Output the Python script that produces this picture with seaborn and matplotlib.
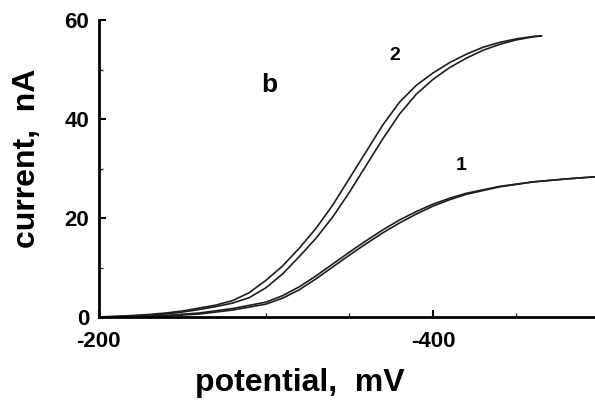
import numpy as np
import pandas as pd
import matplotlib
matplotlib.use("Agg")
import matplotlib.pyplot as plt
import seaborn as sns

# curve 2 (upper pair), two scan directions
pot2 = [-200, -210, -220, -230, -240, -250, -260, -270, -280, -290, -300, -310, -320, -330,
        -340, -350, -360, -370, -380, -390, -400, -410, -420, -430, -440, -450, -460, -465]
cur2_a = [0.0, 0.1, 0.3, 0.5, 0.8, 1.2, 1.8, 2.4, 3.3, 4.9, 7.4, 10.3, 13.9, 17.9,
          22.6, 28.0, 33.4, 38.8, 43.4, 46.8, 49.3, 51.4, 53.1, 54.5, 55.5, 56.2, 56.7, 56.8]
cur2_b = [0.0, 0.1, 0.2, 0.4, 0.6, 1.0, 1.5, 2.1, 2.8, 3.9, 5.9, 8.7, 12.2, 15.9,
          20.2, 25.2, 30.6, 36.0, 41.0, 45.0, 48.0, 50.4, 52.3, 53.9, 55.1, 56.0, 56.6, 56.8]

# curve 1 (lower pair)
pot1 = [-200, -220, -240, -260, -280, -300, -310, -320, -330, -340, -350, -360, -370,
        -380, -390, -400, -410, -420, -440, -460, -480, -500]
cur1_a = [0.0, 0.1, 0.3, 0.8, 1.7, 3.0, 4.3, 6.1, 8.3, 10.7, 13.1, 15.4, 17.6,
          19.6, 21.3, 22.8, 24.0, 25.0, 26.4, 27.3, 27.9, 28.4]
cur1_b = [0.0, 0.0, 0.2, 0.6, 1.4, 2.6, 3.8, 5.5, 7.7, 10.1, 12.5, 14.8, 17.0,
          19.0, 20.8, 22.4, 23.7, 24.8, 26.3, 27.3, 27.9, 28.4]

sns.set_style("ticks")
plt.rcParams['font.family'] = ['Liberation Sans', 'DejaVu Sans']
plt.rcParams['font.weight'] = 'bold'
plt.rcParams['axes.unicode_minus'] = False
plt.rcParams['text.color'] = 'black'
plt.rcParams['axes.labelcolor'] = 'black'

fig = plt.figure(figsize=(5.95, 4.01), dpi=100)
ax = fig.add_axes([0.166, 0.2095, 0.834, 0.7405])

line_kw = dict(color='#1e1e1e', linewidth=1.2, sort=False, estimator=None, ax=ax)
sns.lineplot(x=pot2, y=cur2_a, **line_kw)
sns.lineplot(x=pot2, y=cur2_b, **line_kw)
sns.lineplot(x=pot1, y=cur1_a, **line_kw)
sns.lineplot(x=pot1, y=cur1_b, **line_kw)

ax.set_xlim(-200, -497)
ax.set_ylim(0, 60)
ax.set_xticks([-200, -400])
ax.set_xticks([-250, -300, -350, -450], minor=True)
ax.set_yticks([0, 20, 40, 60])
ax.set_yticks([10, 30, 50], minor=True)
ax.tick_params(axis='both', which='major', direction='in', length=5, width=1.5,
               labelsize=16, colors='black')
ax.tick_params(axis='x', which='major', pad=10)
ax.tick_params(axis='y', which='major', pad=7)
ax.tick_params(axis='both', which='minor', direction='in', length=3, width=1)
for lab in ax.get_xticklabels() + ax.get_yticklabels():
    lab.set_fontweight('bold')

for side in ['top', 'right']:
    ax.spines[side].set_visible(False)
for side in ['left', 'bottom']:
    ax.spines[side].set_linewidth(2)
    ax.spines[side].set_color('black')

ax.set_xlabel('potential,  mV', fontsize=23, fontweight='bold')
ax.set_ylabel('current,  nA', fontsize=23, fontweight='bold')
# label positions in axes fractions (axes spans 99..595 px wide, 20..317 px high)
ax.xaxis.set_label_coords((300 - 99) / 496, -(368 - 317) / 297)
ax.yaxis.set_label_coords(-(99 - 42) / 496, (317 - 158) / 297)

ax.text(-302, 46.9, 'b', fontsize=19, fontweight='bold', ha='center', va='center')
ax.text(-377, 52.9, '2', fontsize=14, fontweight='bold', ha='center', va='center')
ax.text(-417, 30.7, '1', fontsize=14, fontweight='bold', ha='center', va='center')

fig.savefig('out.png', dpi=100)
